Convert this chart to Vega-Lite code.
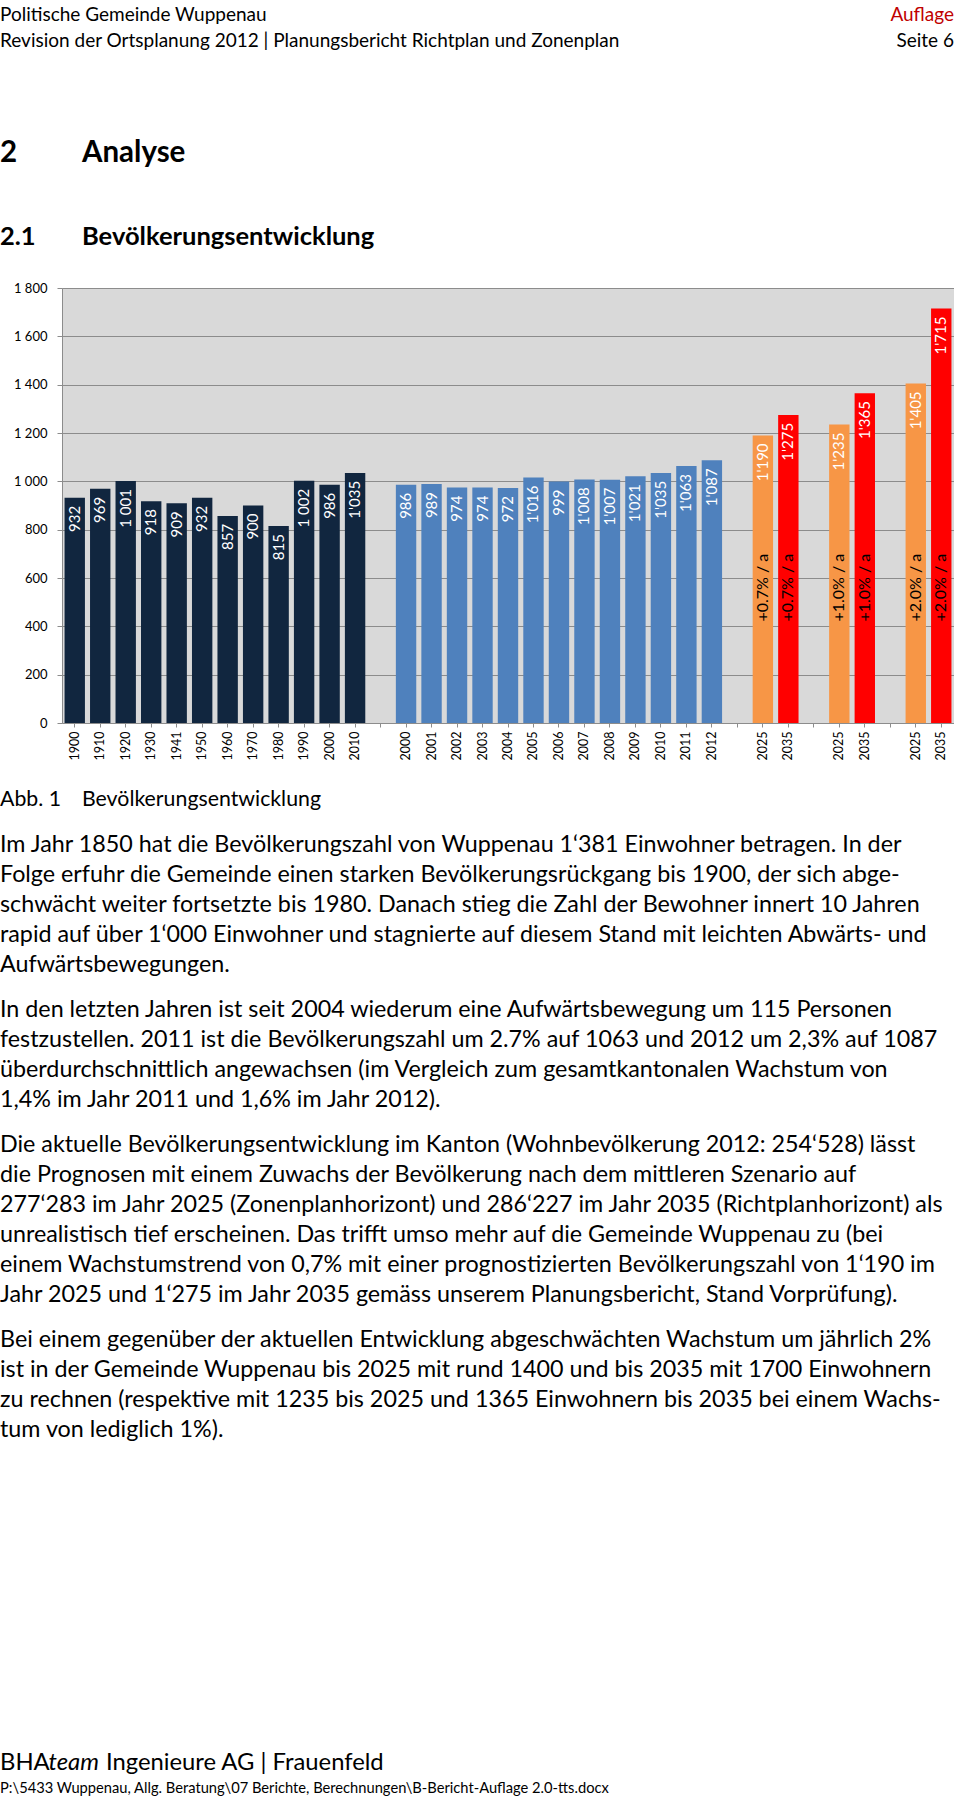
{
  "$schema": "https://vega.github.io/schema/vega-lite/v6.json",
  "padding": 0,
  "background": "white",
  "spacing": 0,
  "config": {
    "view": {"stroke": null},
    "font": "Lato",
    "text": {"font": "Lato", "color": "#000000"}
  },
  "vconcat": [
    {
      "width": 892,
      "height": 56,
      "data": {"values": [
        {"line": 1, "side": "left", "text": "Politische Gemeinde Wuppenau"},
        {"line": 2, "side": "left", "text": "Revision der Ortsplanung 2012 | Planungsbericht Richtplan und Zonenplan"},
        {"line": 1, "side": "right", "text": "Auflage"},
        {"line": 2, "side": "right", "text": "Seite 6"}
      ]},
      "encoding": {
        "x": {"field": "side", "type": "nominal", "axis": null, "scale": {"type": "point", "domain": ["left", "right"], "range": [-62, 892], "padding": 0}},
        "y": {"field": "line", "type": "ordinal", "axis": null, "scale": {"type": "point", "domain": [1, 2], "padding": 0.5769}},
        "text": {"field": "text"}
      },
      "layer": [
        {"transform": [{"filter": "datum.side === 'left'"}], "mark": {"type": "text", "align": "left", "baseline": "middle", "font": "Lato", "fontSize": 19, "color": "#000000"}},
        {"transform": [{"filter": "datum.text === 'Auflage'"}], "mark": {"type": "text", "align": "right", "baseline": "middle", "font": "Lato", "fontSize": 19, "color": "#C00000"}},
        {"transform": [{"filter": "datum.text === 'Seite 6'"}], "mark": {"type": "text", "align": "right", "baseline": "middle", "font": "Lato", "fontSize": 19, "color": "#000000"}}
      ]
    },
    {
      "width": 892,
      "height": 226,
      "data": {"values": [
        {"line": 1, "num": "2", "title": "Analyse"},
        {"line": 2, "num": "2.1", "title": "Bevölkerungsentwicklung"}
      ]},
      "encoding": {
        "x": {"datum": "left", "type": "nominal", "axis": null, "scale": {"type": "point", "domain": ["left", "right"], "range": [-62, 892], "padding": 0}},
        "y": {"field": "line", "type": "ordinal", "axis": null, "scale": {"type": "point", "domain": [1, 2], "padding": 0.8452, "align": 0.6831}}
      },
      "layer": [
        {"transform": [{"filter": "datum.line === 1"}], "mark": {"type": "text", "align": "left", "baseline": "middle", "font": "Lato", "fontWeight": "bold", "fontSize": 29.5, "color": "#000000"}, "encoding": {"text": {"field": "num"}}},
        {"transform": [{"filter": "datum.line === 1"}], "mark": {"type": "text", "align": "left", "baseline": "middle", "font": "Lato", "fontWeight": "bold", "fontSize": 29.5, "color": "#000000", "dx": 82}, "encoding": {"text": {"field": "title"}}},
        {"transform": [{"filter": "datum.line === 2"}], "mark": {"type": "text", "align": "left", "baseline": "middle", "font": "Lato", "fontWeight": "bold", "fontSize": 25.5, "color": "#000000"}, "encoding": {"text": {"field": "num"}}},
        {"transform": [{"filter": "datum.line === 2"}], "mark": {"type": "text", "align": "left", "baseline": "middle", "font": "Lato", "fontWeight": "bold", "fontSize": 25.5, "color": "#000000", "dx": 82}, "encoding": {"text": {"field": "title"}}}
      ]
    },
    {
      "width": 892,
      "height": 435,
      "view": {"fill": "#D9D9D9", "stroke": null},
      "data": {"values": [
        {"key": "A1900", "pop": 932, "label": "932", "series": "hist"},
        {"key": "A1910", "pop": 969, "label": "969", "series": "hist"},
        {"key": "A1920", "pop": 1001, "label": "1 001", "series": "hist"},
        {"key": "A1930", "pop": 918, "label": "918", "series": "hist"},
        {"key": "A1941", "pop": 909, "label": "909", "series": "hist"},
        {"key": "A1950", "pop": 932, "label": "932", "series": "hist"},
        {"key": "A1960", "pop": 857, "label": "857", "series": "hist"},
        {"key": "A1970", "pop": 900, "label": "900", "series": "hist"},
        {"key": "A1980", "pop": 815, "label": "815", "series": "hist"},
        {"key": "A1990", "pop": 1002, "label": "1 002", "series": "hist"},
        {"key": "A2000", "pop": 986, "label": "986", "series": "hist"},
        {"key": "A2010", "pop": 1035, "label": "1'035", "series": "hist"},
        {"key": "B2000", "pop": 986, "label": "986", "series": "recent"},
        {"key": "B2001", "pop": 989, "label": "989", "series": "recent"},
        {"key": "B2002", "pop": 974, "label": "974", "series": "recent"},
        {"key": "B2003", "pop": 974, "label": "974", "series": "recent"},
        {"key": "B2004", "pop": 972, "label": "972", "series": "recent"},
        {"key": "B2005", "pop": 1016, "label": "1'016", "series": "recent"},
        {"key": "B2006", "pop": 999, "label": "999", "series": "recent"},
        {"key": "B2007", "pop": 1008, "label": "1'008", "series": "recent"},
        {"key": "B2008", "pop": 1007, "label": "1'007", "series": "recent"},
        {"key": "B2009", "pop": 1021, "label": "1'021", "series": "recent"},
        {"key": "B2010", "pop": 1035, "label": "1'035", "series": "recent"},
        {"key": "B2011", "pop": 1063, "label": "1'063", "series": "recent"},
        {"key": "B2012", "pop": 1087, "label": "1'087", "series": "recent"},
        {"key": "C2025", "pop": 1190, "label": "1'190", "series": "p2025", "rate": "+0.7% / a"},
        {"key": "C2035", "pop": 1275, "label": "1'275", "series": "p2035", "rate": "+0.7% / a"},
        {"key": "D2025", "pop": 1235, "label": "1'235", "series": "p2025", "rate": "+1.0% / a"},
        {"key": "D2035", "pop": 1365, "label": "1'365", "series": "p2035", "rate": "+1.0% / a"},
        {"key": "E2025", "pop": 1405, "label": "1'405", "series": "p2025", "rate": "+2.0% / a"},
        {"key": "E2035", "pop": 1715, "label": "1'715", "series": "p2035", "rate": "+2.0% / a"}
      ]},
      "encoding": {
        "x": {
          "field": "key",
          "type": "nominal",
          "scale": {
            "domain": ["A1900","A1910","A1920","A1930","A1941","A1950","A1960","A1970","A1980","A1990","A2000","A2010","G1","B2000","B2001","B2002","B2003","B2004","B2005","B2006","B2007","B2008","B2009","B2010","B2011","B2012","G2","C2025","C2035","G3","D2025","D2035","G4","E2025","E2035"],
            "paddingInner": 0.2,
            "paddingOuter": 0.1
          },
          "axis": {
            "title": null,
            "labelAngle": 270,
            "labelFont": "Lato",
            "labelFontSize": 12.5,
            "labelColor": "#000000",
            "labelPadding": 4,
            "labelOverlap": false,
            "tickSize": 4,
            "tickColor": "#8C8C8C",
            "domainColor": "#8C8C8C",
            "grid": false,
            "labelExpr": "indexof(datum.value, 'G') === 0 ? '' : substring(datum.value, 1)"
          }
        }
      },
      "layer": [
        {
          "mark": {"type": "bar"},
          "encoding": {
            "y": {
              "field": "pop",
              "type": "quantitative",
              "stack": null,
              "scale": {"domain": [0, 1800], "nice": false},
              "axis": {
                "title": null,
                "values": [0, 200, 400, 600, 800, 1000, 1200, 1400, 1600, 1800],
                "grid": true,
                "gridColor": "#8C8C8C",
                "domainColor": "#8C8C8C",
                "tickColor": "#8C8C8C",
                "tickSize": 5,
                "labelPadding": 10,
                "labelFont": "Lato",
                "labelFontSize": 13,
                "labelColor": "#000000",
                "labelExpr": "datum.value >= 1000 ? floor(datum.value / 1000) + ' ' + substring(toString(datum.value), 1) : toString(datum.value)"
              }
            },
            "color": {
              "field": "series",
              "type": "nominal",
              "scale": {"domain": ["hist", "recent", "p2025", "p2035"], "range": ["#11263F", "#4F81BD", "#F79646", "#FF0000"]},
              "legend": null
            }
          }
        },
        {
          "mark": {"type": "text", "angle": 270, "align": "right", "baseline": "middle", "dx": -8, "font": "Lato", "fontSize": 15, "color": "#FFFFFF"},
          "encoding": {
            "y": {"field": "pop", "type": "quantitative"},
            "text": {"field": "label"}
          }
        },
        {
          "transform": [{"filter": "datum.rate != null"}],
          "mark": {"type": "text", "angle": 270, "align": "left", "baseline": "middle", "font": "Lato", "fontSize": 16, "color": "#000000"},
          "encoding": {
            "y": {"datum": 420, "type": "quantitative"},
            "text": {"field": "rate"}
          }
        }
      ]
    },
    {
      "spacing": 305,
      "vconcat": [
        {
          "spacing": 15,
          "vconcat": [
            {
              "width": 892,
              "height": 55,
              "data": {"values": [{"line": 1, "num": "Abb. 1", "title": "Bevölkerungsentwicklung"}]},
              "encoding": {
                "x": {"datum": "left", "type": "nominal", "axis": null, "scale": {"type": "point", "domain": ["left", "right"], "range": [-62, 892], "padding": 0}},
                "y": {"field": "line", "type": "ordinal", "axis": null, "scale": {"type": "point", "align": 0.7273}}
              },
              "layer": [
                {"mark": {"type": "text", "align": "left", "baseline": "middle", "font": "Lato", "fontSize": 21.3, "color": "#000000"}, "encoding": {"text": {"field": "num"}}},
                {"mark": {"type": "text", "align": "left", "baseline": "middle", "font": "Lato", "fontSize": 21.3, "color": "#000000", "dx": 82}, "encoding": {"text": {"field": "title"}}}
              ]
            },
            {
              "width": 892,
              "height": 150,
              "data": {"values": [
                {"line": 1, "text": "Im Jahr 1850 hat die Bevölkerungszahl von Wuppenau 1‘381 Einwohner betragen. In der"},
                {"line": 2, "text": "Folge erfuhr die Gemeinde einen starken Bevölkerungsrückgang bis 1900, der sich abge-"},
                {"line": 3, "text": "schwächt weiter fortsetzte bis 1980. Danach stieg die Zahl der Bewohner innert 10 Jahren"},
                {"line": 4, "text": "rapid auf über 1‘000 Einwohner und stagnierte auf diesem Stand mit leichten Abwärts- und"},
                {"line": 5, "text": "Aufwärtsbewegungen."}
              ]},
              "mark": {"type": "text", "align": "left", "baseline": "middle", "font": "Lato", "fontSize": 23.3, "color": "#000000"},
              "encoding": {
                "x": {"datum": "left", "type": "nominal", "axis": null, "scale": {"type": "point", "domain": ["left", "right"], "range": [-62, 892], "padding": 0}},
                "y": {"field": "line", "type": "ordinal", "axis": null, "scale": {"type": "point", "padding": 0.5}},
                "text": {"field": "text"}
              }
            },
            {
              "width": 892,
              "height": 120,
              "data": {"values": [
                {"line": 1, "text": "In den letzten Jahren ist seit 2004 wiederum eine Aufwärtsbewegung um 115 Personen"},
                {"line": 2, "text": "festzustellen. 2011 ist die Bevölkerungszahl um 2.7% auf 1063 und 2012 um 2,3% auf 1087"},
                {"line": 3, "text": "überdurchschnittlich angewachsen (im Vergleich zum gesamtkantonalen Wachstum von"},
                {"line": 4, "text": "1,4% im Jahr 2011 und 1,6% im Jahr 2012)."}
              ]},
              "mark": {"type": "text", "align": "left", "baseline": "middle", "font": "Lato", "fontSize": 23.3, "color": "#000000"},
              "encoding": {
                "x": {"datum": "left", "type": "nominal", "axis": null, "scale": {"type": "point", "domain": ["left", "right"], "range": [-62, 892], "padding": 0}},
                "y": {"field": "line", "type": "ordinal", "axis": null, "scale": {"type": "point", "padding": 0.5}},
                "text": {"field": "text"}
              }
            },
            {
              "width": 892,
              "height": 180,
              "data": {"values": [
                {"line": 1, "text": "Die aktuelle Bevölkerungsentwicklung im Kanton (Wohnbevölkerung 2012: 254‘528) lässt"},
                {"line": 2, "text": "die Prognosen mit einem Zuwachs der Bevölkerung nach dem mittleren Szenario auf"},
                {"line": 3, "text": "277‘283 im Jahr 2025 (Zonenplanhorizont) und 286‘227 im Jahr 2035 (Richtplanhorizont) als"},
                {"line": 4, "text": "unrealistisch tief erscheinen. Das trifft umso mehr auf die Gemeinde Wuppenau zu (bei"},
                {"line": 5, "text": "einem Wachstumstrend von 0,7% mit einer prognostizierten Bevölkerungszahl von 1‘190 im"},
                {"line": 6, "text": "Jahr 2025 und 1‘275 im Jahr 2035 gemäss unserem Planungsbericht, Stand Vorprüfung)."}
              ]},
              "mark": {"type": "text", "align": "left", "baseline": "middle", "font": "Lato", "fontSize": 23.3, "color": "#000000"},
              "encoding": {
                "x": {"datum": "left", "type": "nominal", "axis": null, "scale": {"type": "point", "domain": ["left", "right"], "range": [-62, 892], "padding": 0}},
                "y": {"field": "line", "type": "ordinal", "axis": null, "scale": {"type": "point", "padding": 0.5}},
                "text": {"field": "text"}
              }
            },
            {
              "width": 892,
              "height": 120,
              "data": {"values": [
                {"line": 1, "text": "Bei einem gegenüber der aktuellen Entwicklung abgeschwächten Wachstum um jährlich 2%"},
                {"line": 2, "text": "ist in der Gemeinde Wuppenau bis 2025 mit rund 1400 und bis 2035 mit 1700 Einwohnern"},
                {"line": 3, "text": "zu rechnen (respektive mit 1235 bis 2025 und 1365 Einwohnern bis 2035 bei einem Wachs-"},
                {"line": 4, "text": "tum von lediglich 1%)."}
              ]},
              "mark": {"type": "text", "align": "left", "baseline": "middle", "font": "Lato", "fontSize": 23.3, "color": "#000000"},
              "encoding": {
                "x": {"datum": "left", "type": "nominal", "axis": null, "scale": {"type": "point", "domain": ["left", "right"], "range": [-62, 892], "padding": 0}},
                "y": {"field": "line", "type": "ordinal", "axis": null, "scale": {"type": "point", "padding": 0.5}},
                "text": {"field": "text"}
              }
            }
          ]
        },
        {
          "width": 892,
          "height": 52,
          "data": {"values": [
            {"line": 1, "part": "a", "text": "BHA"},
            {"line": 1, "part": "b", "text": "team"},
            {"line": 1, "part": "c", "text": "Ingenieure AG | Frauenfeld"},
            {"line": 2, "part": "d", "text": "P:\\5433 Wuppenau, Allg. Beratung\\07 Berichte, Berechnungen\\B-Bericht-Auflage 2.0-tts.docx"}
          ]},
          "encoding": {
            "x": {"datum": "left", "type": "nominal", "axis": null, "scale": {"type": "point", "domain": ["left", "right"], "range": [-62, 892], "padding": 0}},
            "y": {"field": "line", "type": "ordinal", "axis": null, "scale": {"type": "point", "domain": [1, 2], "padding": 0.5}},
            "text": {"field": "text"}
          },
          "layer": [
            {"transform": [{"filter": "datum.part === 'a'"}], "mark": {"type": "text", "align": "left", "baseline": "middle", "font": "Lato", "fontSize": 23.8, "color": "#000000"}},
            {"transform": [{"filter": "datum.part === 'b'"}], "mark": {"type": "text", "align": "left", "baseline": "middle", "font": "Lato", "fontSize": 23.8, "fontStyle": "italic", "color": "#000000", "dx": 48.5}},
            {"transform": [{"filter": "datum.part === 'c'"}], "mark": {"type": "text", "align": "left", "baseline": "middle", "font": "Lato", "fontSize": 23.8, "color": "#000000", "dx": 106}},
            {"transform": [{"filter": "datum.part === 'd'"}], "mark": {"type": "text", "align": "left", "baseline": "middle", "font": "Lato", "fontSize": 14.7, "color": "#000000"}}
          ]
        }
      ]
    }
  ]
}
